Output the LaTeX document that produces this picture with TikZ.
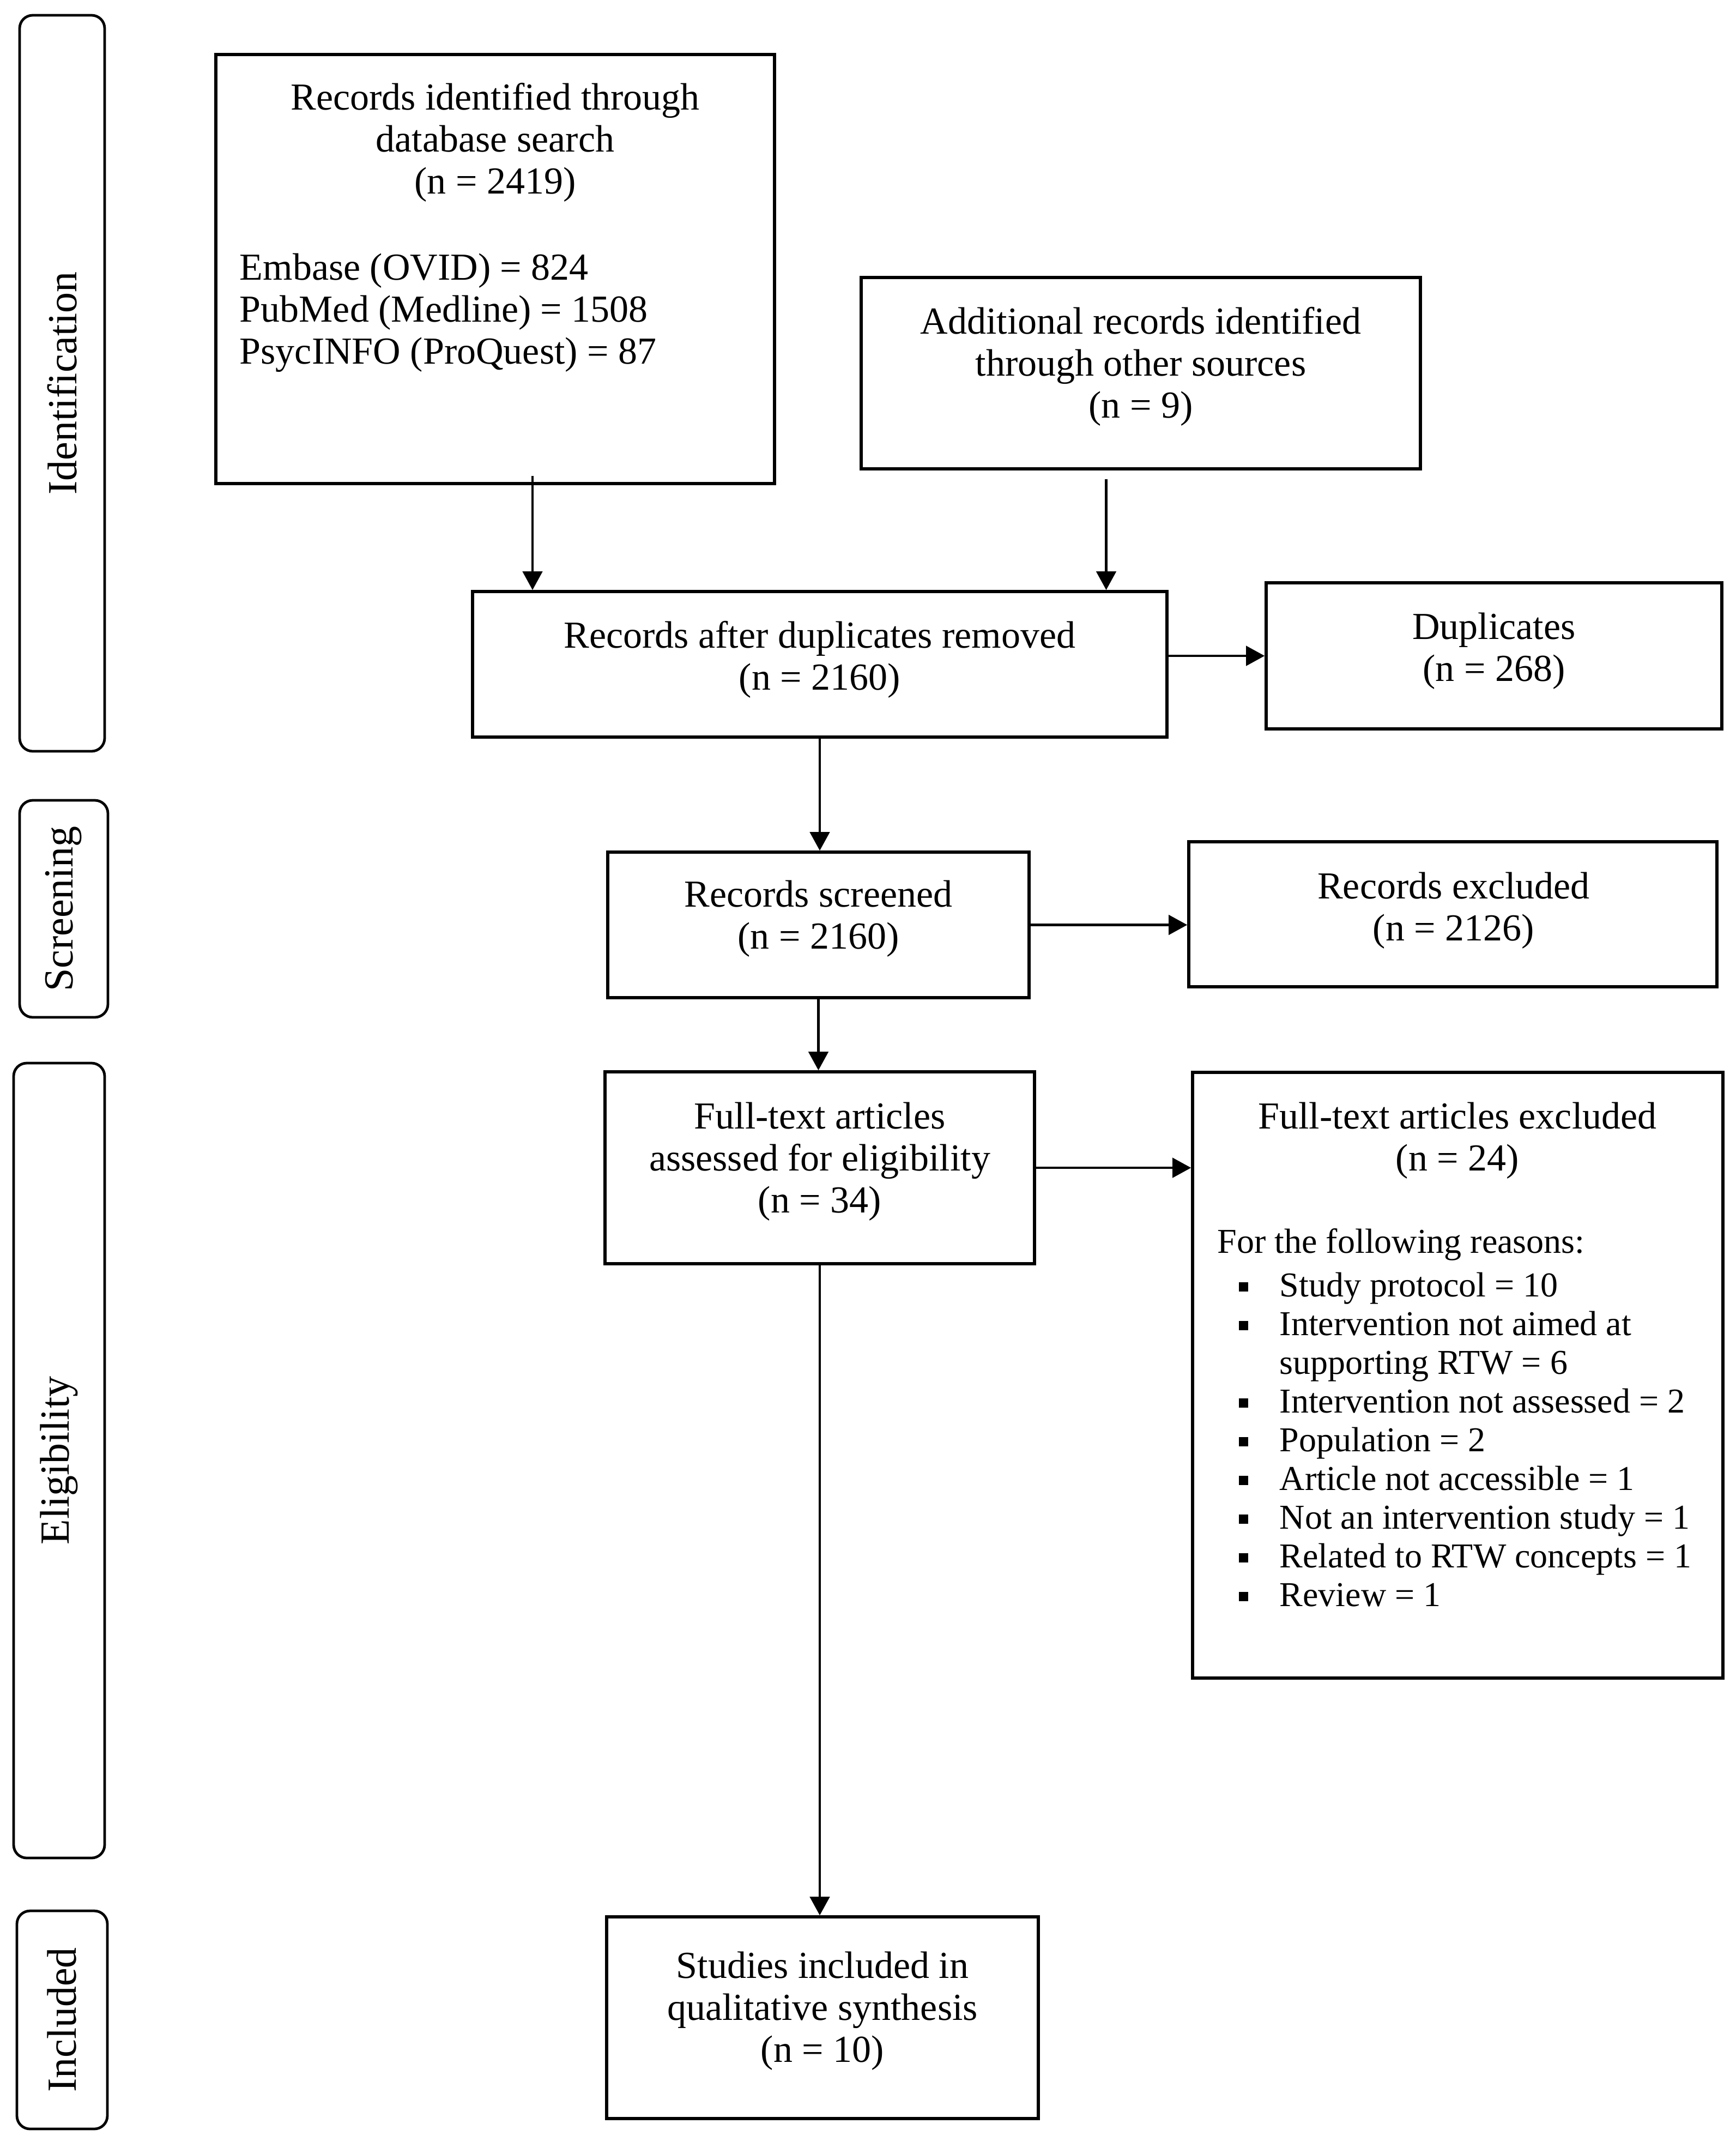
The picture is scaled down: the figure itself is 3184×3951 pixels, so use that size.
\documentclass[tikz,border=0pt]{standalone}
\usepackage{fontspec}
\setmainfont{Liberation Serif}
\usetikzlibrary{arrows.meta,calc}
\newcommand\mainsz{\fontsize{17.5}{19.25}\selectfont}
\newcommand\smallsz{\fontsize{16}{17.75}\selectfont}
\newcommand\sidesz{\fontsize{19}{22}\selectfont}
\newcommand\bul{\strut\makebox[18.75pt][l]{\raisebox{2.4pt}{\rule{4.3pt}{4.3pt}}}}
\newcommand\ind{\strut\hspace*{18.75pt}}
\begin{document}
\begin{tikzpicture}[x=0.25pt,y=-0.25pt,
  box/.style={draw, line width=1.4pt, inner sep=0pt},
  side/.style={draw, line width=1.2pt, rounded corners=6pt, inner sep=0pt},
  txt/.style={inner sep=0pt, anchor=north, align=center, font=\mainsz},
  sidetxt/.style={inner sep=0pt, rotate=90, font=\sidesz},
  arr/.style={-{Triangle[length=8.5pt,width=9pt]}, line width=1.1pt}]
\fill[white] (0,0) rectangle (3184,3951);
\useasboundingbox (0,0) rectangle (3184,3951);

% side phase boxes
\node[side, minimum width=39pt, minimum height=337.5pt] (sid) at (114,703) {};
\node[side, minimum width=40.5pt, minimum height=99.5pt] (sscr) at (117,1667) {};
\node[side, minimum width=41.75pt, minimum height=364.5pt] (selig) at (108.5,2679) {};
\node[side, minimum width=41.5pt, minimum height=100pt] (sinc) at (114,3705) {};
\node[sidetxt] (l-id) at (sid.center) {Identification};
\node[sidetxt] (l-scr) at (sscr.center) {Screening};
\node[sidetxt] (l-elig) at (selig.center) {Eligibility};
\node[sidetxt] (l-inc) at (sinc.center) {Included};

% main boxes
\node[box, minimum width=256.25pt, minimum height=196.75pt] (rid) at (908.5,493.5) {};
\node[box, minimum width=256.5pt, minimum height=87.75pt] (add) at (2093,684.5) {};
\node[box, minimum width=318.5pt, minimum height=66.75pt] (after) at (1504,1218.5) {};
\node[box, minimum width=209pt, minimum height=67pt] (dups) at (2741,1203) {};
\node[box, minimum width=193.25pt, minimum height=66.75pt] (scr) at (1501.5,1696.5) {};
\node[box, minimum width=242.25pt, minimum height=66.5pt] (exc) at (2665.5,1677) {};
\node[box, minimum width=197pt, minimum height=88pt] (ft) at (1504,2142) {};
\node[box, minimum width=243.25pt, minimum height=277.75pt] (fte) at (2674.5,2522.5) {};
\node[box, minimum width=198pt, minimum height=92.5pt] (stud) at (1509,3701) {};

% texts
\node[txt] (t-rid) at (908.5,147) {\strut Records identified through\\\strut database search\\\strut (n = 2419)};
\node[txt, anchor=north west, align=left] (t-db) at (439,459) {\strut Embase (OVID) = 824\\\strut PubMed (Medline) = 1508\\\strut PsycINFO (ProQuest) = 87};
\node[txt] (t-add) at (2093,558) {\strut Additional records identified\\\strut through other sources\\\strut (n = 9)};
\node[txt] (t-after) at (1504,1134) {\strut Records after duplicates removed\\\strut (n = 2160)};
\node[txt] (t-dups) at (2741,1118) {\strut Duplicates\\\strut (n = 268)};
\node[txt] (t-scr) at (1501.5,1609) {\strut Records screened\\\strut (n = 2160)};
\node[txt] (t-exc) at (2667,1594) {\strut Records excluded\\\strut (n = 2126)};
\node[txt] (t-ft) at (1504,2016) {\strut Full-text articles\\\strut assessed for eligibility\\\strut (n = 34)};
\node[txt] (t-fte) at (2674,2016) {\strut Full-text articles excluded\\\strut (n = 24)};
\node[txt, anchor=north west, align=left, font=\smallsz] (t-reason) at (2233,2248) {\strut For the following reasons:};
\node[txt, anchor=north west, align=left, font=\smallsz] (t-list) at (2272,2328) {%
\bul Study protocol = 10\\
\bul Intervention not aimed at\\
\ind supporting RTW = 6\\
\bul Intervention not assessed = 2\\
\bul Population = 2\\
\bul Article not accessible = 1\\
\bul Not an intervention study = 1\\
\bul Related to RTW concepts = 1\\
\bul Review = 1};
\node[txt] (t-stud) at (1509,3574) {\strut Studies included in\\\strut qualitative synthesis\\\strut (n = 10)};

% connectors
\coordinate (a1x) at (977,0);
\coordinate (a2x) at (2029.5,0);
\draw[arr] ($(rid.south -| a1x)+(0,-17)$) -- (after.north -| a1x);
\draw[arr] ($(add.south -| a2x)+(0,16)$) -- (after.north -| a2x);
\draw[arr] (after.east |- dups.west) -- (dups.west);
\draw[arr] (after.south) -- (after.south |- scr.north);
\draw[arr] (scr.east) -- (scr.east -| exc.west);
\draw[arr] (scr.south) -- (scr.south |- ft.north);
\draw[arr] (ft.east) -- (ft.east -| fte.west);
\draw[arr] (ft.south) -- (ft.south |- stud.north);
\end{tikzpicture}
\end{document}
